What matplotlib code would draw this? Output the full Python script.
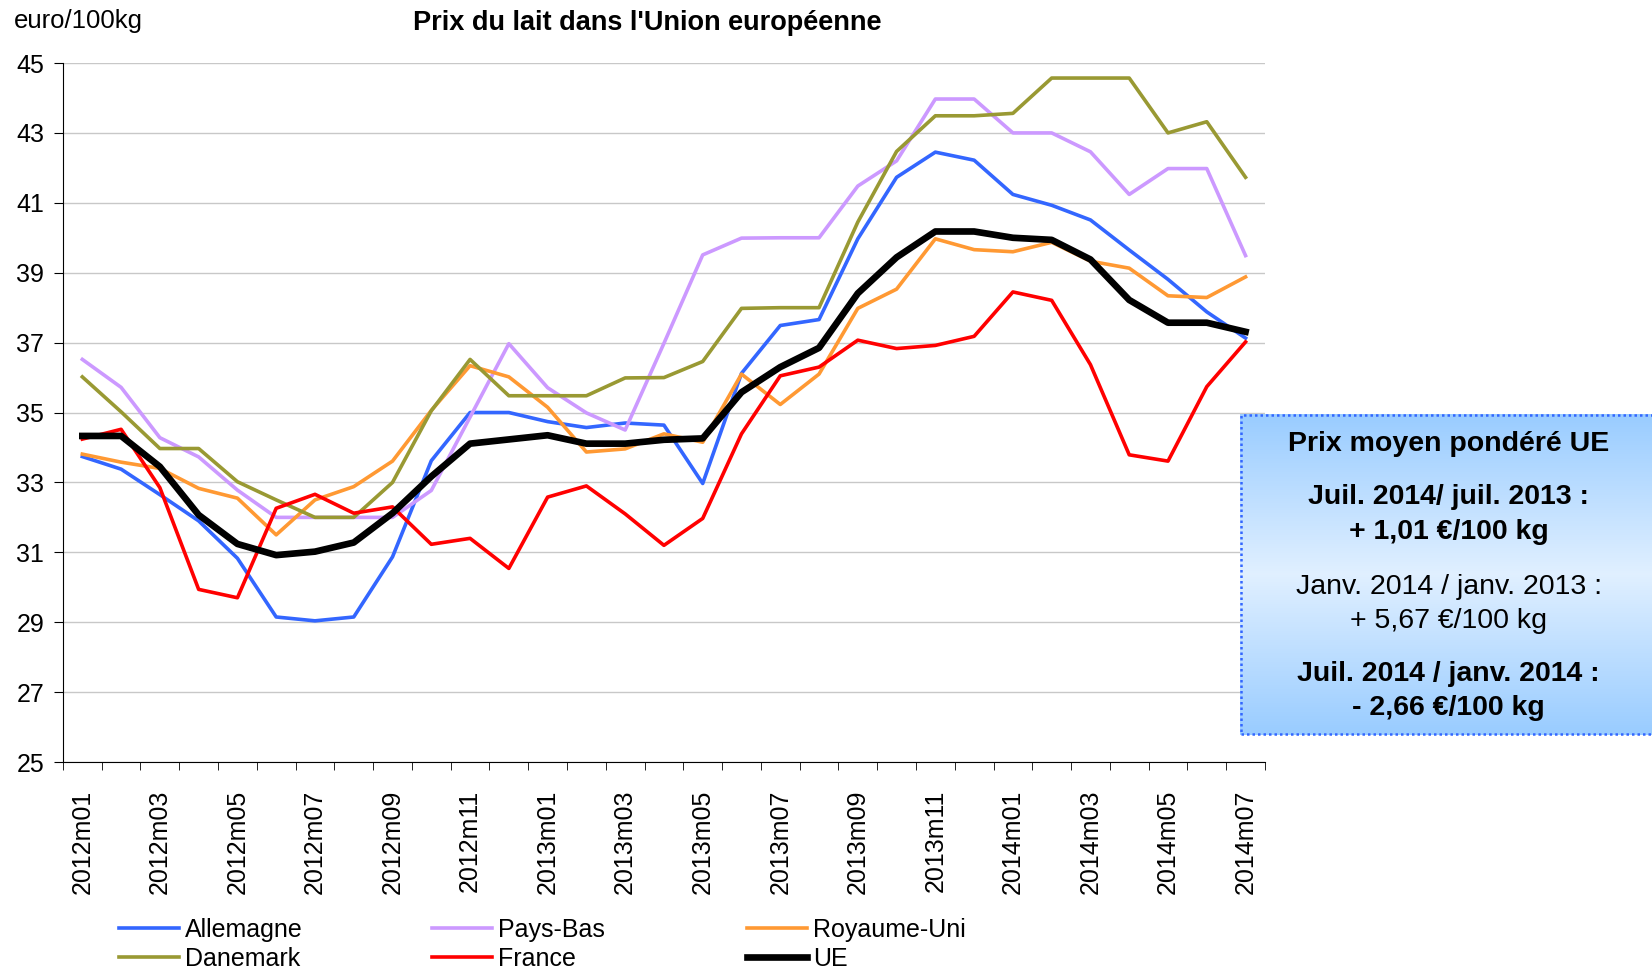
import numpy as np
import matplotlib
matplotlib.use("Agg")
import matplotlib.pyplot as plt
from matplotlib.patches import Rectangle

plt.rcParams['font.family'] = ['Liberation Sans', 'DejaVu Sans']

months = ["2012m%02d" % m for m in range(1, 13)] + \
         ["2013m%02d" % m for m in range(1, 13)] + \
         ["2014m%02d" % m for m in range(1, 8)]

allemagne = [33.74, 33.38, 32.65, 31.9, 30.83, 29.15, 29.04, 29.15, 30.87, 33.62, 35.0,
             35.0, 34.74, 34.57, 34.7, 34.64, 32.97, 36.12, 37.49, 37.66, 39.97, 41.73,
             42.45, 42.22, 41.24, 40.93, 40.51, 39.65, 38.81, 37.88, 37.13]
pays_bas = [36.52, 35.72, 34.28, 33.73, 32.78, 32.0, 32.0, 32.0, 32.0, 32.77, 34.87,
            36.97, 35.71, 34.99, 34.5, 36.98, 39.51, 39.99, 40.0, 40.0, 41.48, 42.2,
            43.97, 43.97, 43.0, 43.0, 42.46, 41.24, 41.98, 41.98, 39.49]
royaume_uni = [33.81, 33.58, 33.4, 32.83, 32.55, 31.5, 32.5, 32.88, 33.61, 35.06, 36.34,
               36.02, 35.15, 33.87, 33.96, 34.39, 34.15, 36.1, 35.23, 36.1, 37.98, 38.53,
               39.97, 39.66, 39.6, 39.87, 39.33, 39.13, 38.34, 38.29, 38.88]
danemark = [36.02, 35.02, 33.97, 33.97, 33.02, 32.5, 32.0, 32.0, 33.0, 35.05, 36.52,
            35.48, 35.48, 35.48, 35.99, 36.0, 36.46, 37.98, 38.0, 38.0, 40.45, 42.47,
            43.49, 43.49, 43.56, 44.57, 44.57, 44.57, 43.0, 43.32, 41.73]
france = [34.24, 34.52, 32.85, 29.94, 29.7, 32.26, 32.66, 32.12, 32.3, 31.23, 31.4,
          30.54, 32.58, 32.9, 32.1, 31.2, 31.97, 34.39, 36.05, 36.3, 37.07, 36.83,
          36.92, 37.18, 38.45, 38.21, 36.37, 33.79, 33.61, 35.74, 37.02]
ue = [34.33, 34.33, 33.45, 32.07, 31.24, 30.92, 31.02, 31.28, 32.12, 33.17, 34.11,
      34.23, 34.35, 34.11, 34.11, 34.22, 34.26, 35.58, 36.3, 36.85, 38.41, 39.44,
      40.18, 40.18, 40.0, 39.94, 39.38, 38.22, 37.57, 37.57, 37.31]

box_lines = [
    ("Prix moyen pondéré UE", "bold"),
    ("Juil. 2014/ juil. 2013 :", "bold"),
    ("+ 1,01 €/100 kg", "bold"),
    ("Janv. 2014 / janv. 2013 :", "normal"),
    ("+ 5,67 €/100 kg", "normal"),
    ("Juil. 2014 / janv. 2014 :", "bold"),
    ("- 2,66 €/100 kg", "bold"),
]

fig = plt.figure(figsize=(16.52, 9.71), dpi=100)
ax = fig.add_axes([0.0381, 0.2152, 0.7276, 0.7199])

x = np.arange(len(months))
l_all, = ax.plot(x, allemagne, color="#3366FF", lw=2.6, label="Allemagne")
l_pb, = ax.plot(x, pays_bas, color="#CC99FF", lw=2.6, label="Pays-Bas")
l_ru, = ax.plot(x, royaume_uni, color="#FF9933", lw=2.6, label="Royaume-Uni")
l_dk, = ax.plot(x, danemark, color="#999933", lw=2.6, label="Danemark")
l_fr, = ax.plot(x, france, color="#FF0000", lw=2.6, label="France")
l_ue, = ax.plot(x, ue, color="black", lw=4.8, label="UE")

ax.set_xlim(-0.5, len(months) - 0.5)
ax.set_ylim(25, 45)
ax.set_yticks(np.arange(25, 46, 2))
ax.yaxis.grid(True, color="#C8C8C8", lw=1.0)
ax.set_axisbelow(True)
for s in ["top", "right"]:
    ax.spines[s].set_visible(False)
ax.tick_params(axis="y", labelsize=18, length=6.5, pad=7, direction="out")

# labels centered on categories, tick marks between categories
ax.set_xticks(x[::2])
ax.set_xticklabels(months[::2], rotation=90, fontsize=18)
ax.set_xticks(np.arange(-0.5, len(months), 1), minor=True)
ax.tick_params(axis="x", which="major", length=0, pad=20)
ax.tick_params(axis="x", which="minor", length=6, direction="out")

fig.text(0.392, 0.976, "Prix du lait dans l'Union européenne", fontsize=19.5,
         fontweight="bold", ha="center", va="center")
fig.text(0.0085, 0.978, "euro/100kg", fontsize=18.5, ha="left", va="center")

# legend, three columns
cols = [([l_all, l_dk], 0.072), ([l_pb, l_fr], 0.2615), ([l_ru, l_ue], 0.452)]
for handles, xpos in cols:
    fig.legend(handles=handles, loc="center left", bbox_to_anchor=(xpos, 0.0275),
               frameon=False, fontsize=18, handlelength=2.4, handletextpad=0.25,
               labelspacing=0.18, borderpad=0, borderaxespad=0)

# info box with vertical gradient
bax = fig.add_axes([0.7506, 0.2430, 0.2494, 0.3306])
top = np.array([0.60, 0.80, 1.0])
mid = np.array([0.88, 0.94, 1.0])
t = np.linspace(0, 1, 200)
w = 1 - np.abs(t - 0.5) * 2
grad = top[None, :] * (1 - w[:, None]) + mid[None, :] * w[:, None]
bax.imshow(grad[:, None, :], aspect="auto", extent=[0, 1, 0, 1])
bax.add_patch(Rectangle((0.003, 0.003), 1.2, 0.994, fill=False, ec="#3366FF",
                        lw=1.8, ls=(0, (1, 1.2)), clip_on=False))
bax.set_xlim(0, 1)
bax.set_ylim(0, 1)
bax.axis("off")

ys = [0.5427, 0.4882, 0.4521, 0.3955, 0.3604, 0.3059, 0.2709]
for (txt, wt), yy in zip(box_lines, ys):
    fig.text(0.877, yy, txt, fontsize=20.5, fontweight=wt, ha="center", va="center")

fig.savefig("out.png", dpi=100)
